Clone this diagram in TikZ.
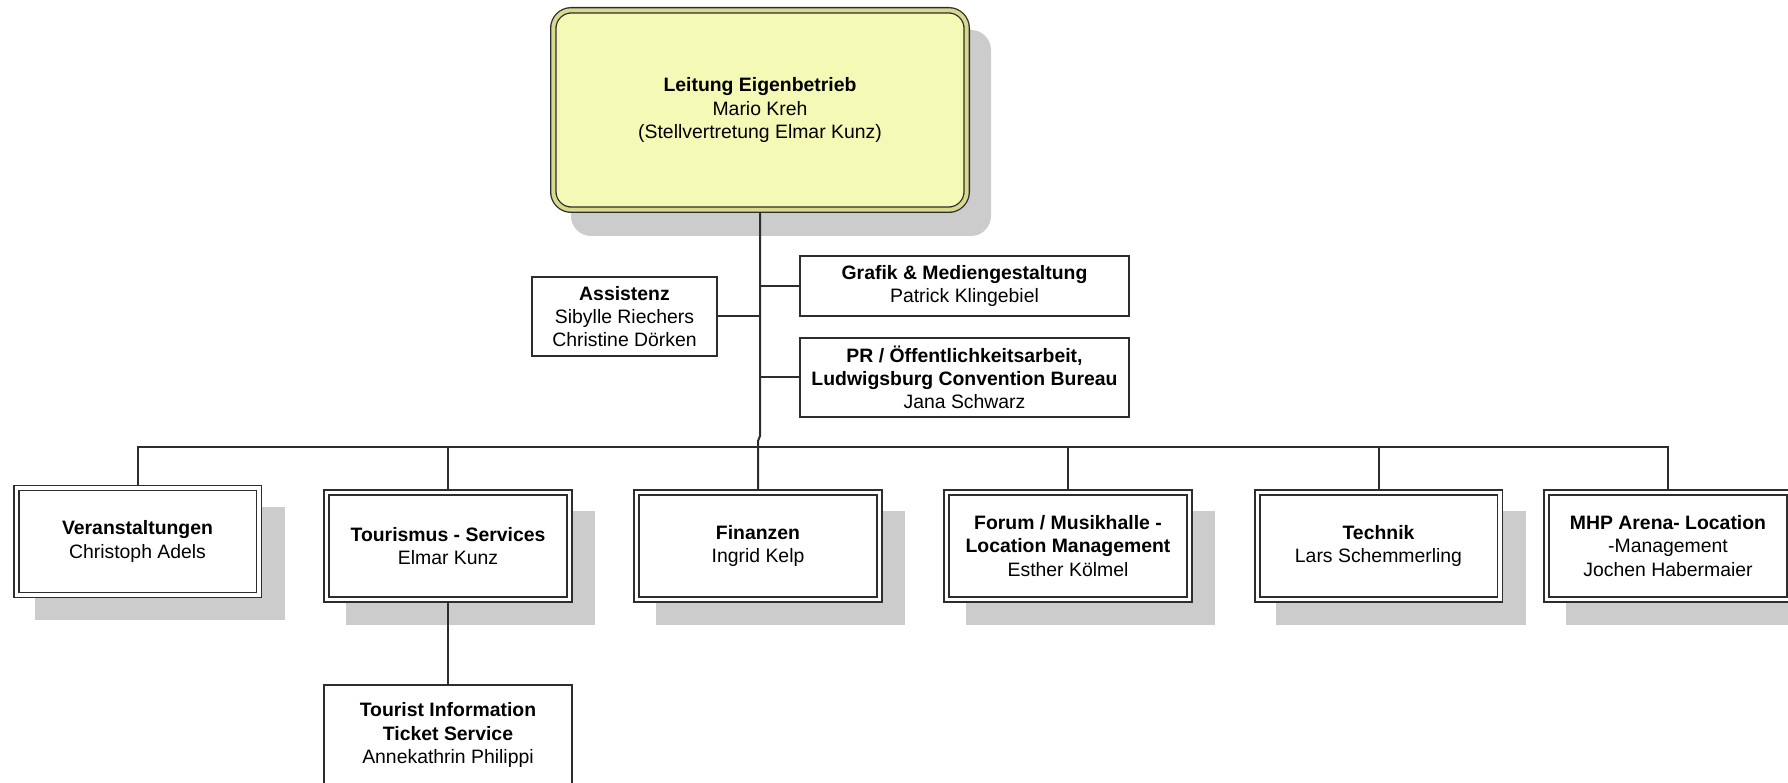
\documentclass[tikz,border=0pt]{standalone}
\usepackage{fontspec}
\setmainfont{Liberation Sans}
\usetikzlibrary{backgrounds}
\definecolor{linec}{RGB}{45,45,45}
\definecolor{shadowc}{RGB}{204,204,204}
\definecolor{topfill}{RGB}{245,249,182}
\definecolor{topband}{RGB}{216,216,142}
\tikzset{
  txt/.style={font=\fontsize{19.4}{23.3}\selectfont, align=center, inner sep=0pt},
  plainbox/.style n args={2}{txt, draw=linec, line width=1.8pt, fill=white,
      minimum width=#1, minimum height=#2},
  dblbox/.style={txt, draw=linec, line width=1.6pt, double=white, double distance=3.4pt,
      fill=white, minimum width=242.6pt, minimum height=107pt, outer sep=3.3pt},
  topbox/.style={txt, draw=linec, line width=1.3pt, double=topband, double distance=4pt,
      fill=topfill, rounded corners=18pt, minimum width=413.4pt, minimum height=199.4pt,
      outer sep=3.3pt},
  conn/.style={draw=linec, line width=2pt},
  shade/.style={fill=shadowc}
}
\begin{document}
\begin{tikzpicture}[x=1pt, y=-1pt]
\useasboundingbox (0,0) rectangle (1788,783);
\clip (0,0) rectangle (1788,783);

% head
\node[topbox] (top) at (760,110) {{\bfseries Leitung Eigenbetrieb}\\Mario Kreh\\(Stellvertretung Elmar Kunz)};

% staff
\node[plainbox={185.2pt}{79.2pt}] (asst) at (624.5,316.5) {{\bfseries Assistenz}\\Sibylle Riechers\\Christine Dörken};
\node[plainbox={329.2pt}{60.2pt}] (grafik) at (964.5,286) {{\bfseries Grafik \& Mediengestaltung}\\Patrick Klingebiel};
\node[plainbox={329.2pt}{79.2pt}] (pr) at (964.5,377.5) {{\bfseries PR / Öffentlichkeitsarbeit,}\\{\bfseries Ludwigsburg Convention Bureau}\\Jana Schwarz};

% departments
\node[dblbox] (veranst) at (137.5,541.5) {{\bfseries Veranstaltungen}\\Christoph Adels};
\node[dblbox] (tour) at (448,546) {{\bfseries Tourismus - Services}\\Elmar Kunz};
\node[dblbox] (fin) at (758,546) {{\bfseries Finanzen}\\Ingrid Kelp};
\node[dblbox] (forum) at (1068,546) {{\bfseries Forum / Musikhalle -}\\{\bfseries Location Management}\\Esther Kölmel};
\node[dblbox] (tech) at (1378.5,546) {{\bfseries Technik}\\Lars Schemmerling};
\node[dblbox] (mhp) at (1668,546) {{\bfseries MHP Arena- Location}\\-Management\\Jochen Habermaier};

% sub unit
\node[plainbox={248.2pt}{100.2pt}] (info) at (448,735) {{\bfseries Tourist Information}\\{\bfseries Ticket Service}\\Annekathrin Philippi};

% shadows
\begin{scope}[on background layer]
  \clip (0,0) rectangle (1788,783);
  \fill[shade, rounded corners=20pt] ([shift={(21,23)}]top.north west) rectangle ([shift={(21,23)}]top.south east);
  \foreach \n in {veranst,tour,fin,forum,tech,mhp}{
    \fill[shade] ([shift={(22.5,22)}]\n.north west) rectangle ([shift={(22.5,22)}]\n.south east);
  }
\end{scope}

% connectors
\coordinate (bus) at (0,447);
\coordinate (jog1) at (760,436);
\coordinate (jog2) at (758,441);
\draw[conn] (top.south) -- (jog1) -- (jog2) -- (fin.north);
\draw[conn] (veranst.north) -- (veranst.north |- bus) -- (mhp.north |- bus) -- (mhp.north);
\foreach \n in {tour,forum,tech}{
  \draw[conn] (\n.north) -- (\n.north |- bus);
}
\draw[conn] (tour.south) -- (info.north);
\draw[conn] (asst.east) -- (asst.east -| jog1);
\draw[conn] (grafik.west) -- (grafik.west -| jog1);
\draw[conn] (pr.west) -- (pr.west -| jog1);
\end{tikzpicture}
\end{document}
